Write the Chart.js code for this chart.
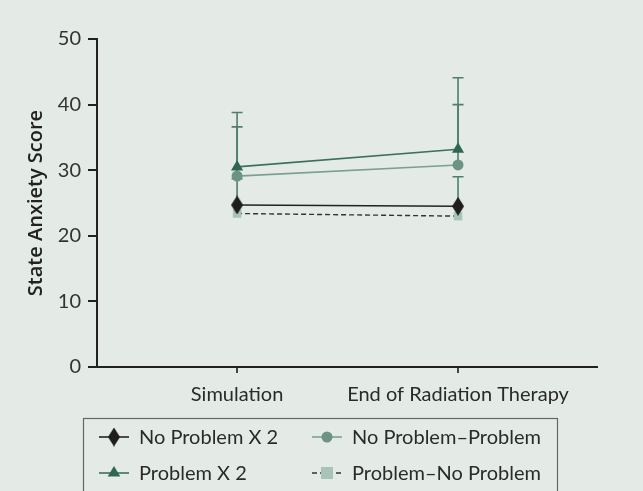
<!DOCTYPE html>
<html>
<head>
<meta charset="utf-8">
<script src="https://cdn.jsdelivr.net/npm/chart.js@4/dist/chart.umd.min.js"></script>
<style>
  html, body { margin: 0; padding: 0; background: #e4ebe7; }
  #wrap { width: 643px; height: 491px; position: relative; }
</style>
</head>
<body>
<div id="wrap"><canvas id="anxietyChart"></canvas></div>
<script>
// Data
const categories = ['Simulation', 'End of Radiation Therapy'];
const yTicks = [0, 10, 20, 30, 40, 50];

const noProblemX2 = [24.7, 24.5];
const noProblemX2Err = [4.0, 4.5];
const problemX2 = [30.5, 33.2];
const problemX2Err = [8.3, 10.9];
const noProblemProblem = [29.1, 30.8];
const noProblemProblemErr = [7.5, 9.2];
const problemNoProblem = [23.4, 23.0];

const FONT = 'Lato, "Open Sans", sans-serif';

// tall diamond marker
const diamond = document.createElement('canvas');
diamond.width = 12;
diamond.height = 19;
(function () {
    const c = diamond.getContext('2d');
    c.fillStyle = '#1e1e1e';
    c.beginPath();
    c.moveTo(6, 0); c.lineTo(12, 9.5); c.lineTo(6, 19); c.lineTo(0, 9.5);
    c.closePath();
    c.fill();
})();

function toPoints(values) {
    return values.map((v, i) => ({ x: i, y: v }));
}

const datasets = [
    {
        label: 'No Problem X 2',
        data: toPoints(noProblemX2),
        err: noProblemX2Err,
        borderColor: '#222222',
        borderWidth: 1.6,
        pointStyle: diamond,
        backgroundColor: '#1e1e1e',
        errColor: '#4f7e6c'
    },
    {
        label: 'Problem X 2',
        data: toPoints(problemX2),
        err: problemX2Err,
        borderColor: '#3b705d',
        borderWidth: 1.6,
        pointStyle: 'triangle',
        pointRadius: 7,
        backgroundColor: '#2f6650',
        pointBorderWidth: 0,
        errColor: '#4f7e6c'
    },
    {
        label: 'No Problem\u2013Problem',
        data: toPoints(noProblemProblem),
        err: noProblemProblemErr,
        borderColor: '#7ba091',
        borderWidth: 1.6,
        pointStyle: 'circle',
        pointRadius: 5.5,
        backgroundColor: '#6c9383',
        pointBorderWidth: 0,
        errColor: '#4f7e6c'
    },
    {
        label: 'Problem\u2013No Problem',
        data: toPoints(problemNoProblem),
        err: null,
        borderColor: '#333333',
        borderWidth: 1.4,
        borderDash: [5, 3],
        pointStyle: 'rect',
        pointRadius: 6,
        backgroundColor: '#a8c4b8',
        pointBorderWidth: 0
    }
];

// upper error bars drawn through the scales
const errorBars = {
    id: 'errorBars',
    beforeDatasetsDraw(chart) {
        const { ctx, scales: { x, y } } = chart;
        ctx.save();
        chart.data.datasets.forEach(ds => {
            if (!ds.err) return;
            ctx.strokeStyle = ds.errColor;
            ctx.lineWidth = 1.6;
            ds.data.forEach((p, i) => {
                const px = x.getPixelForValue(p.x);
                const py = y.getPixelForValue(p.y);
                const top = y.getPixelForValue(p.y + ds.err[i]);
                ctx.beginPath();
                ctx.moveTo(px, py);
                ctx.lineTo(px, top);
                ctx.moveTo(px - 5.5, top);
                ctx.lineTo(px + 5.5, top);
                ctx.stroke();
            });
        });
        ctx.restore();
    }
};

function drawMarker(ctx, ds, cx, cy) {
    ctx.fillStyle = ds.backgroundColor;
    if (ds.pointStyle instanceof HTMLCanvasElement) {
        ctx.drawImage(ds.pointStyle, cx - ds.pointStyle.width / 2, cy - ds.pointStyle.height / 2);
        return;
    }
    const r = ds.pointRadius;
    ctx.beginPath();
    if (ds.pointStyle === 'circle') {
        ctx.arc(cx, cy, r, 0, Math.PI * 2);
    } else if (ds.pointStyle === 'triangle') {
        ctx.moveTo(cx, cy - r);
        ctx.lineTo(cx + r * 0.9, cy + r * 0.5);
        ctx.lineTo(cx - r * 0.9, cy + r * 0.5);
        ctx.closePath();
    } else {
        ctx.rect(cx - r, cy - r, r * 2, r * 2);
    }
    ctx.fill();
}

// boxed two-column legend under the axis
const boxLegend = {
    id: 'boxLegend',
    afterDraw(chart) {
        const ctx = chart.ctx;
        ctx.save();
        ctx.strokeStyle = '#666666';
        ctx.lineWidth = 1.2;
        ctx.strokeRect(83.5, 418.5, 474, 90);

        const slots = [[99, 437], [99, 473], [312, 437], [312, 473]];
        const ordered = [0, 1, 2, 3];
        ordered.forEach((di, k) => {
            const ds = chart.data.datasets[di];
            const [sx, sy] = slots[k];
            ctx.strokeStyle = ds.borderColor;
            ctx.lineWidth = ds.borderWidth;
            ctx.setLineDash(ds.borderDash || []);
            ctx.beginPath();
            ctx.moveTo(sx, sy);
            ctx.lineTo(sx + 30, sy);
            ctx.stroke();
            ctx.setLineDash([]);
            drawMarker(ctx, ds, sx + 15, sy);
            ctx.fillStyle = '#2a2a2a';
            ctx.font = '20px ' + FONT;
            ctx.textBaseline = 'middle';
            ctx.fillText(ds.label, sx + 40, sy + 1);
        });
        ctx.restore();
    }
};

const chart = new Chart(document.getElementById('anxietyChart'), {
    type: 'line',
    data: { datasets: datasets },
    options: {
        responsive: true,
        maintainAspectRatio: false,
        animation: false,
        layout: { padding: { top: 39, right: 46, bottom: 0, left: 0 } },
        plugins: {
            legend: { display: false },
            tooltip: { enabled: false }
        },
        scales: {
            x: {
                type: 'linear',
                min: -0.634,
                max: 1.629,
                afterBuildTicks: scale => { scale.ticks = [{ value: 0 }, { value: 1 }]; },
                afterFit: scale => { scale.height = 124; },
                border: { display: true, color: '#222222', width: 2 },
                grid: { drawOnChartArea: false, drawTicks: true, tickLength: 6, color: '#444444', lineWidth: 2 },
                ticks: {
                    padding: 10,
                    color: '#2a2a2a',
                    font: { family: FONT, size: 20 },
                    callback: v => categories[v]
                }
            },
            y: {
                min: 0,
                max: 50,
                afterBuildTicks: scale => { scale.ticks = yTicks.map(v => ({ value: v })); },
                afterFit: scale => { scale.width = 97; },
                border: { display: true, color: '#222222', width: 2 },
                grid: { drawOnChartArea: false, drawTicks: true, tickLength: 9, color: '#222222', lineWidth: 2 },
                ticks: {
                    padding: 7,
                    color: '#333333',
                    font: { family: FONT, size: 20 }
                },
                title: {
                    display: true,
                    text: 'State Anxiety Score',
                    color: '#222222',
                    font: { family: '"Open Sans", sans-serif', size: 20, weight: '600' },
                    padding: { top: 24, bottom: 4 }
                }
            }
        }
    },
    plugins: [errorBars, boxLegend]
});
</script>
</body>
</html>
